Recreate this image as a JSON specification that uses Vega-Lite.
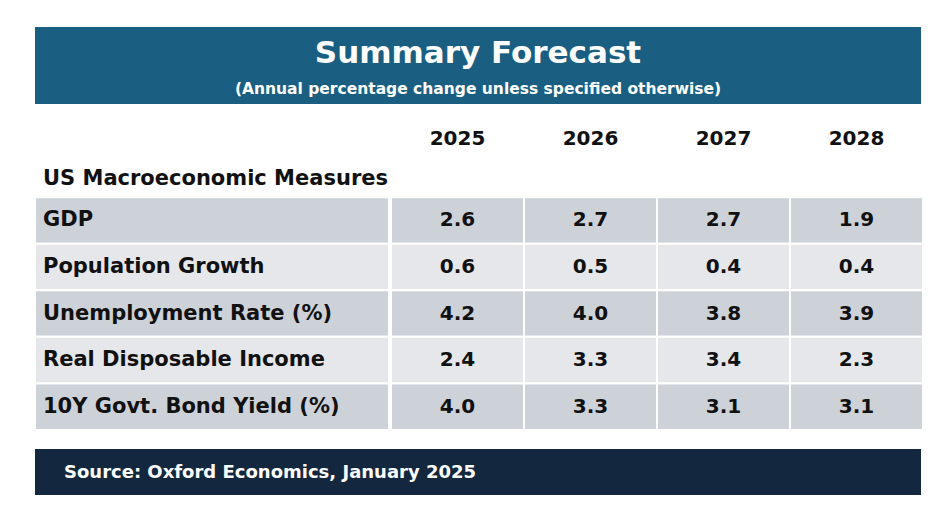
{
  "$schema": "https://vega.github.io/schema/vega-lite/v6.json",
  "padding": {"left": 34, "top": 27, "right": 32, "bottom": 21},
  "background": "white",
  "config": {"view": {"stroke": null}, "font": "DejaVu Sans", "text": {"font": "DejaVu Sans", "fontWeight": "bold"}},
  "datasets": {
    "forecast": [
      {"measure": "GDP", "year": "2025", "value": 2.6},
      {"measure": "GDP", "year": "2026", "value": 2.7},
      {"measure": "GDP", "year": "2027", "value": 2.7},
      {"measure": "GDP", "year": "2028", "value": 1.9},
      {"measure": "Population Growth", "year": "2025", "value": 0.6},
      {"measure": "Population Growth", "year": "2026", "value": 0.5},
      {"measure": "Population Growth", "year": "2027", "value": 0.4},
      {"measure": "Population Growth", "year": "2028", "value": 0.4},
      {"measure": "Unemployment Rate (%)", "year": "2025", "value": 4.2},
      {"measure": "Unemployment Rate (%)", "year": "2026", "value": 4.0},
      {"measure": "Unemployment Rate (%)", "year": "2027", "value": 3.8},
      {"measure": "Unemployment Rate (%)", "year": "2028", "value": 3.9},
      {"measure": "Real Disposable Income", "year": "2025", "value": 2.4},
      {"measure": "Real Disposable Income", "year": "2026", "value": 3.3},
      {"measure": "Real Disposable Income", "year": "2027", "value": 3.4},
      {"measure": "Real Disposable Income", "year": "2028", "value": 2.3},
      {"measure": "10Y Govt. Bond Yield (%)", "year": "2025", "value": 4.0},
      {"measure": "10Y Govt. Bond Yield (%)", "year": "2026", "value": 3.3},
      {"measure": "10Y Govt. Bond Yield (%)", "year": "2027", "value": 3.1},
      {"measure": "10Y Govt. Bond Yield (%)", "year": "2028", "value": 3.1}
    ],
    "header": [
      {"line": "title", "text": "Summary Forecast"},
      {"line": "subtitle", "text": "(Annual percentage change unless specified otherwise)"}
    ],
    "section": [{"row": "Section", "text": "US Macroeconomic Measures"}],
    "source": [{"text": "Source: Oxford Economics, January 2025"}]
  },
  "spacing": 18,
  "vconcat": [
    {
      "spacing": 0,
      "vconcat": [
        {
          "width": 886,
          "height": 77,
          "view": {"fill": "#1a5f82", "stroke": null},
          "data": {"name": "header"},
          "layer": [
            {
              "transform": [{"filter": "datum.line === 'title'"}],
              "mark": {"type": "text", "fontSize": 31, "fontWeight": "bold", "color": "white", "dy": 8},
              "encoding": {
                "y": {"field": "line", "type": "nominal", "scale": {"domain": ["title", "subtitle"], "paddingInner": 0, "paddingOuter": 0}, "axis": null},
                "text": {"field": "text"}
              }
            },
            {
              "transform": [{"filter": "datum.line === 'subtitle'"}],
              "mark": {"type": "text", "fontSize": 15.5, "fontWeight": "bold", "color": "white", "dy": 4},
              "encoding": {
                "y": {"field": "line", "type": "nominal", "scale": {"domain": ["title", "subtitle"], "paddingInner": 0, "paddingOuter": 0}, "axis": null},
                "text": {"field": "text"}
              }
            }
          ]
        },
        {
          "spacing": 0,
          "hconcat": [
            {
              "width": 354,
              "height": 326,
              "layer": [
                {
                  "data": {"name": "forecast"},
                  "transform": [{"filter": "datum.year === '2025'"}],
                  "mark": {"type": "rect", "stroke": "white", "strokeWidth": 2},
                  "encoding": {
                    "x": {"datum": "label", "type": "nominal", "scale": {"type": "band", "domain": ["label"], "paddingInner": 0, "paddingOuter": 0}, "axis": null},
                    "y": {"field": "measure", "type": "nominal", "scale": {"domain": ["Years", "Section", "GDP", "Population Growth", "Unemployment Rate (%)", "Real Disposable Income", "10Y Govt. Bond Yield (%)"], "paddingInner": 0, "paddingOuter": 0}, "axis": null},
                    "color": {"field": "measure", "type": "nominal", "scale": {"domain": ["GDP", "Population Growth", "Unemployment Rate (%)", "Real Disposable Income", "10Y Govt. Bond Yield (%)"], "range": ["#cdd2d8", "#e5e7ea", "#cdd2d8", "#e5e7ea", "#cdd2d8"]}, "legend": null}
                  }
                },
                {
                  "data": {"name": "forecast"},
                  "transform": [{"filter": "datum.year === '2025'"}],
                  "mark": {"type": "text", "align": "left", "dx": 8, "fontSize": 21, "fontWeight": "bold", "color": "#111111"},
                  "encoding": {
                    "x": {"datum": "label", "type": "nominal", "bandPosition": 0, "axis": null},
                    "y": {"field": "measure", "type": "nominal", "axis": null},
                    "text": {"field": "measure"}
                  }
                },
                {
                  "data": {"name": "section"},
                  "mark": {"type": "text", "align": "left", "dx": 8, "dy": 5, "fontSize": 21, "fontWeight": "bold", "color": "#111111"},
                  "encoding": {
                    "x": {"datum": "label", "type": "nominal", "bandPosition": 0, "axis": null},
                    "y": {"field": "row", "type": "nominal", "axis": null},
                    "text": {"field": "text"}
                  }
                }
              ]
            },
            {
              "width": 532,
              "height": 326,
              "data": {"name": "forecast"},
              "layer": [
                {
                  "mark": {"type": "rect", "stroke": "white", "strokeWidth": 2},
                  "encoding": {
                    "x": {"field": "year", "type": "nominal", "scale": {"domain": ["2025", "2026", "2027", "2028"], "paddingInner": 0, "paddingOuter": 0}, "axis": null},
                    "y": {"field": "measure", "type": "nominal", "scale": {"domain": ["Years", "Section", "GDP", "Population Growth", "Unemployment Rate (%)", "Real Disposable Income", "10Y Govt. Bond Yield (%)"], "paddingInner": 0, "paddingOuter": 0}, "axis": null},
                    "color": {"field": "measure", "type": "nominal", "scale": {"domain": ["GDP", "Population Growth", "Unemployment Rate (%)", "Real Disposable Income", "10Y Govt. Bond Yield (%)"], "range": ["#cdd2d8", "#e5e7ea", "#cdd2d8", "#e5e7ea", "#cdd2d8"]}, "legend": null}
                  }
                },
                {
                  "mark": {"type": "text", "fontSize": 20, "fontWeight": "bold", "color": "#111111"},
                  "encoding": {
                    "x": {"field": "year", "type": "nominal", "axis": null},
                    "y": {"field": "measure", "type": "nominal", "axis": null},
                    "text": {"field": "value", "type": "quantitative", "format": ".1f"}
                  }
                },
                {
                  "transform": [{"filter": "datum.measure === 'GDP'"}],
                  "mark": {"type": "text", "fontSize": 20, "fontWeight": "bold", "color": "#111111", "dy": 12},
                  "encoding": {
                    "x": {"field": "year", "type": "nominal", "axis": null},
                    "y": {"datum": "Years", "type": "nominal", "axis": null},
                    "text": {"field": "year"}
                  }
                }
              ]
            }
          ]
        }
      ]
    },
    {
      "width": 886,
      "height": 46,
      "view": {"fill": "#13283f", "stroke": null},
      "data": {"name": "source"},
      "mark": {"type": "text", "align": "left", "dx": 29, "dy": 1, "fontSize": 18, "fontWeight": "bold", "color": "white"},
      "encoding": {
        "x": {"datum": "source", "type": "nominal", "scale": {"type": "band", "domain": ["source"], "paddingInner": 0, "paddingOuter": 0}, "bandPosition": 0, "axis": null},
        "text": {"field": "text"}
      }
    }
  ]
}
